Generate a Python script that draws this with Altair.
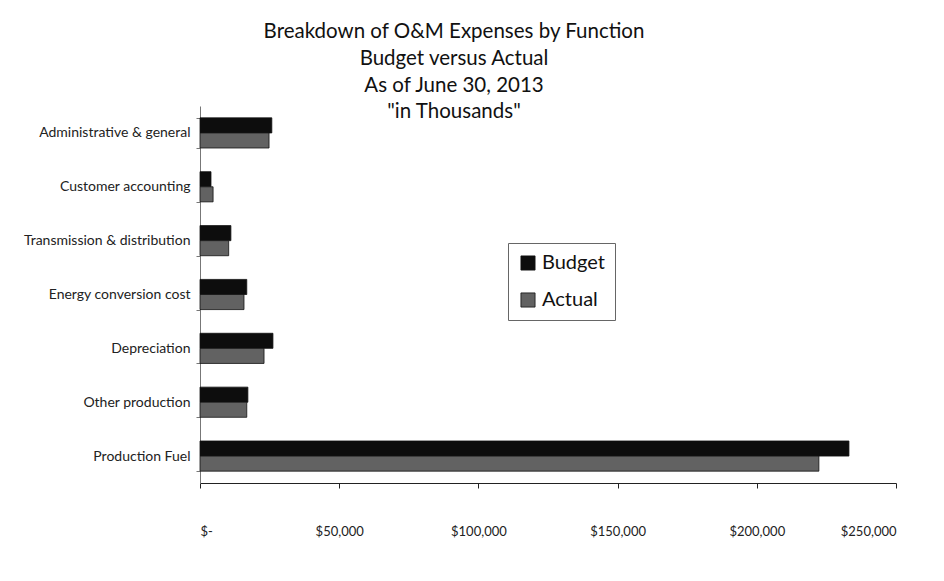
import altair as alt
import pandas as pd

categories = [
    "Administrative & general",
    "Customer accounting",
    "Transmission & distribution",
    "Energy conversion cost",
    "Depreciation",
    "Other production",
    "Production Fuel",
]
budget = [25800, 3950, 11100, 16800, 26200, 17200, 233100]
actual = [24800, 4700, 10300, 15800, 23000, 16800, 222300]
series = ["Budget", "Actual"]
x_ticks = [0, 50000, 100000, 150000, 200000, 250000]
title_lines = [
    "Breakdown of O&M Expenses by Function",
    "Budget versus Actual",
    "As of June 30, 2013",
    '"in Thousands"',
]

rows = []
for c, b, a in zip(categories, budget, actual):
    rows.append({"Function": c, "Series": "Budget", "Value": b})
    rows.append({"Function": c, "Series": "Actual", "Value": a})
df = pd.DataFrame(rows)

FONT = "Lato"

chart = (
    alt.Chart(df)
    .mark_bar(stroke="#111111", strokeWidth=0.8)
    .encode(
        y=alt.Y(
            "Function:N",
            sort=categories,
            title=None,
            scale=alt.Scale(paddingInner=0.44, paddingOuter=0.22),
            axis=alt.Axis(
                tickBand="extent",
                tickSize=4,
                domainColor="#777777",
                tickColor="#777777",
                labelFont=FONT,
                labelFontSize=14,
                labelColor="#222222",
                labelPadding=6,
            ),
        ),
        yOffset=alt.YOffset("Series:N", sort=series),
        x=alt.X(
            "Value:Q",
            title=None,
            scale=alt.Scale(domain=[0, 250000], nice=False),
            axis=alt.Axis(
                values=x_ticks,
                grid=False,
                tickSize=5,
                domainColor="#222222",
                tickColor="#222222",
                labelFont=FONT,
                labelFontSize=13,
                labelColor="#222222",
                labelPadding=37,
                labelExpr="datum.value == 0 ? '$-' : '$' + format(datum.value, ',')",
            ),
        ),
        color=alt.Color(
            "Series:N",
            scale=alt.Scale(domain=series, range=["#0d0d0d", "#626262"]),
            legend=alt.Legend(
                title=None,
                orient="none",
                legendX=308,
                legendY=137,
                labelFont=FONT,
                labelFontSize=20,
                labelColor="#111111",
                symbolType="square",
                symbolSize=200,
                symbolStrokeColor="#111111",
                symbolStrokeWidth=0.8,
                rowPadding=17,
                padding=10,
                strokeColor="#666666",
                fillColor="white",
            ),
        ),
    )
    .properties(
        width=696,
        height=377,
        padding={"left": 192, "top": 98, "right": 40, "bottom": 60},
        autosize=alt.AutoSizeParams(type="none"),
        background="white",
        title=alt.TitleParams(
            text=title_lines,
            anchor="middle",
            dx=-94,
            dy=28,
            font=FONT,
            fontSize=20.5,
            fontWeight="normal",
            color="#111111",
            lineHeight=26.7,
        ),
    )
    .configure_view(stroke=None)
)

chart.save("out.html", embed_options={"renderer": "svg", "actions": False})
